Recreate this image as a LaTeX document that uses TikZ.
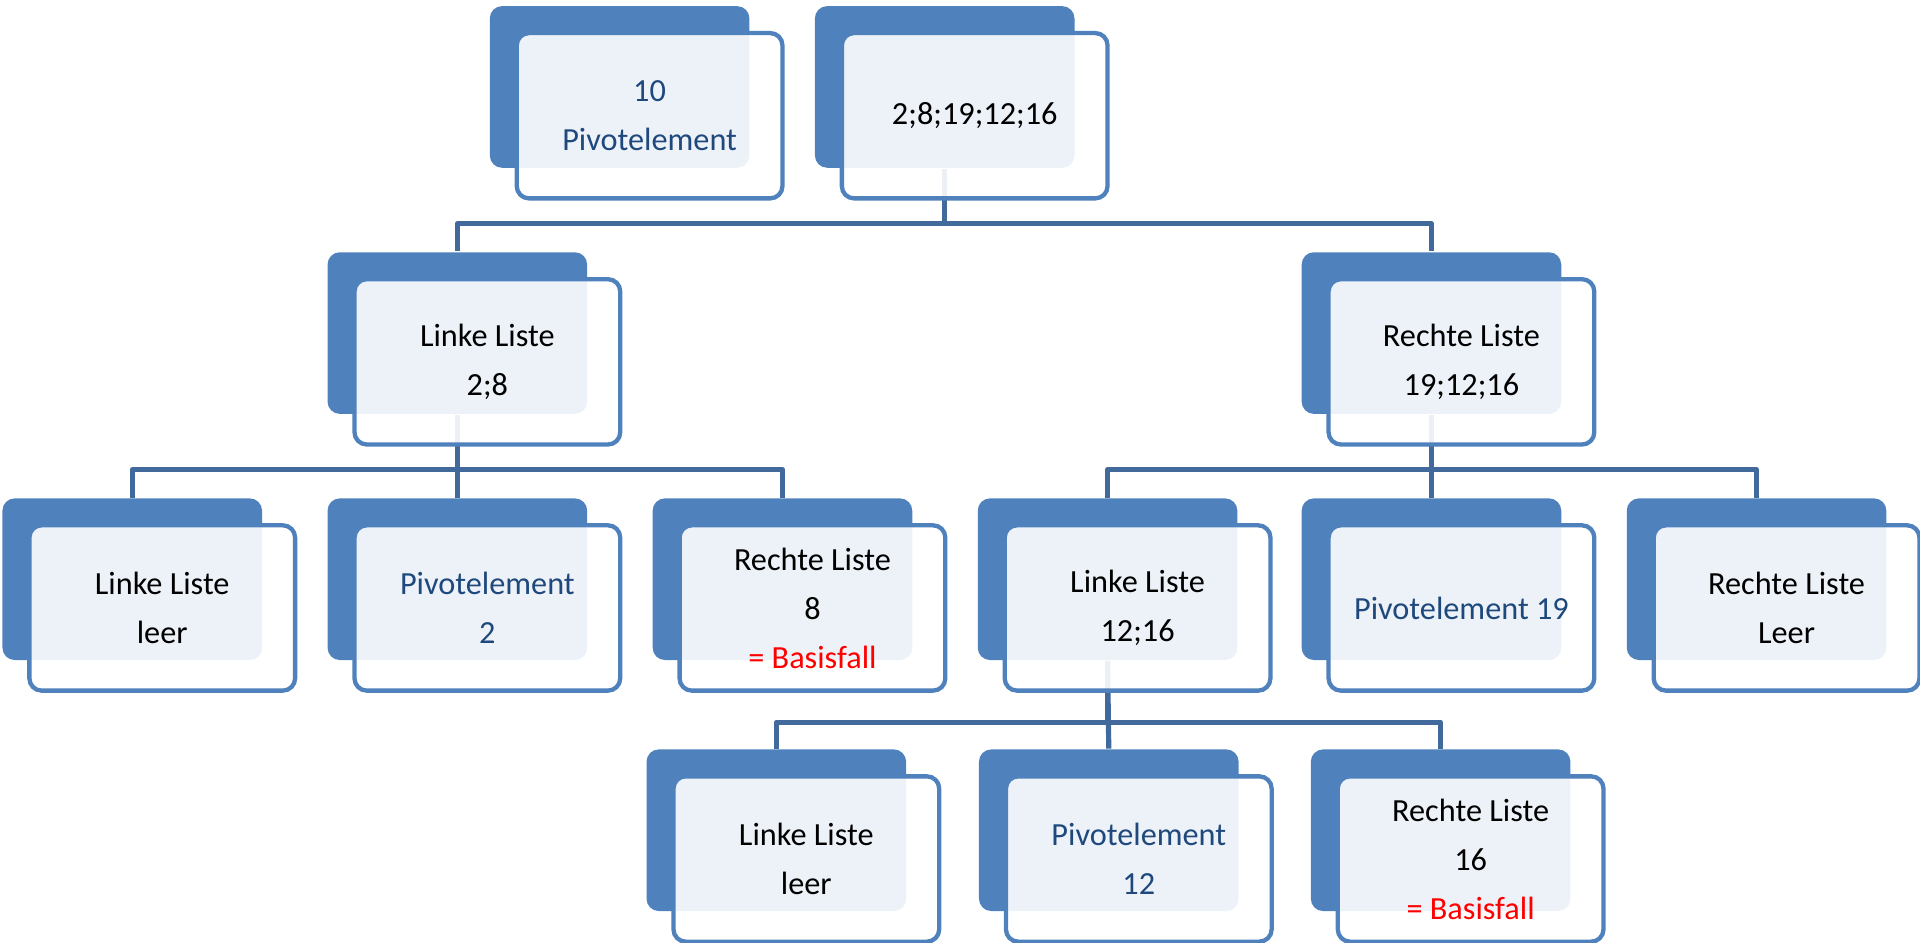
\documentclass[tikz,border=0pt]{standalone}
\usepackage{fontspec}
\setmainfont{Carlito}
\usepackage{tikz}
\usetikzlibrary{positioning}
\definecolor{kartenblau}{HTML}{4F81BD}
\definecolor{linienblau}{HTML}{41699C}
\definecolor{textblau}{HTML}{1F497D}
\definecolor{basisrot}{HTML}{FF0000}

\begin{document}
\begin{tikzpicture}[
  hinten/.style={rectangle,rounded corners=0.1cm,fill=kartenblau,minimum width=2.12cm,minimum height=1.32cm,inner sep=0pt},
  vorne/.style={rectangle,rounded corners=0.1cm,draw=kartenblau,line width=1pt,fill=white,fill opacity=0.9,text opacity=1,
    minimum width=2.17cm,minimum height=1.35cm,inner sep=0pt,align=center,font=\fontsize{7.5}{11.4}\selectfont,
    xshift=0.245cm,yshift=-0.235cm},
  kante/.style={draw=linienblau,line width=1.2pt,line join=round},
  piv/.style={text=textblau}]
\useasboundingbox (0,0) rectangle (15.68,-7.70);
% hintere Karten
\node[hinten] (pivA) at (5.06,-0.71) {};
\node[hinten] (liste) at (7.715,-0.71) {};
\node[hinten] (links) at (3.735,-2.72) {};
\node[hinten] (rechts) at (11.69,-2.72) {};
\node[hinten] (lleer) at (1.08,-4.73) {};
\node[hinten] (lpiv) at (3.735,-4.73) {};
\node[hinten] (lrechts) at (6.39,-4.73) {};
\node[hinten] (rlinks) at (9.045,-4.73) {};
\node[hinten] (rpiv) at (11.69,-4.73) {};
\node[hinten] (rleer) at (14.345,-4.73) {};
\node[hinten] (rlleer) at (6.34,-6.78) {};
\node[hinten] (rlpiv) at (9.055,-6.78) {};
\node[hinten] (rlrechts) at (11.765,-6.78) {};
% Verbindungen
\draw[kante] (liste.south) -- ++(0,-0.45) -| (links.north);
\draw[kante] (liste.south) -- ++(0,-0.45) -| (rechts.north);
\draw[kante] (links.south) -- ++(0,-0.45) -| (lleer.north);
\draw[kante] (links.south) -- (lpiv.north);
\draw[kante] (links.south) -- ++(0,-0.45) -| (lrechts.north);
\draw[kante] (rechts.south) -- ++(0,-0.45) -| (rlinks.north);
\draw[kante] (rechts.south) -- (rpiv.north);
\draw[kante] (rechts.south) -- ++(0,-0.45) -| (rleer.north);
\draw[kante] (rlinks.south) -- ++(0,-0.5) -| (rlleer.north);
\draw[kante] (rlinks.south) -- (rlpiv.north);
\draw[kante] (rlinks.south) -- ++(0,-0.5) -| (rlrechts.north);
% vordere Karten mit Text
\node[vorne,piv] (pivAtext) at (pivA) {10\\Pivotelement};
\node[vorne] (listetext) at (liste) {2;8;19;12;16};
\node[vorne] (linkstext) at (links) {Linke Liste\\2;8};
\node[vorne] (rechtstext) at (rechts) {Rechte Liste\\19;12;16};
\node[vorne] (lleertext) at (lleer) {Linke Liste\\leer};
\node[vorne,piv] (lpivtext) at (lpiv) {Pivotelement\\2};
\node[vorne] (lrechtstext) at (lrechts) {Rechte Liste\\8\\\textcolor{basisrot}{= Basisfall}};
\node[vorne] (rlinkstext) at (rlinks) {Linke Liste\\12;16};
\node[vorne,piv] (rpivtext) at (rpiv) {Pivotelement 19};
\node[vorne] (rleertext) at (rleer) {Rechte Liste\\Leer};
\node[vorne] (rlleertext) at (rlleer) {Linke Liste\\leer};
\node[vorne,piv] (rlpivtext) at (rlpiv) {Pivotelement\\12};
\node[vorne] (rlrechtstext) at (rlrechts) {Rechte Liste\\16\\\textcolor{basisrot}{= Basisfall}};
\end{tikzpicture}
\end{document}
